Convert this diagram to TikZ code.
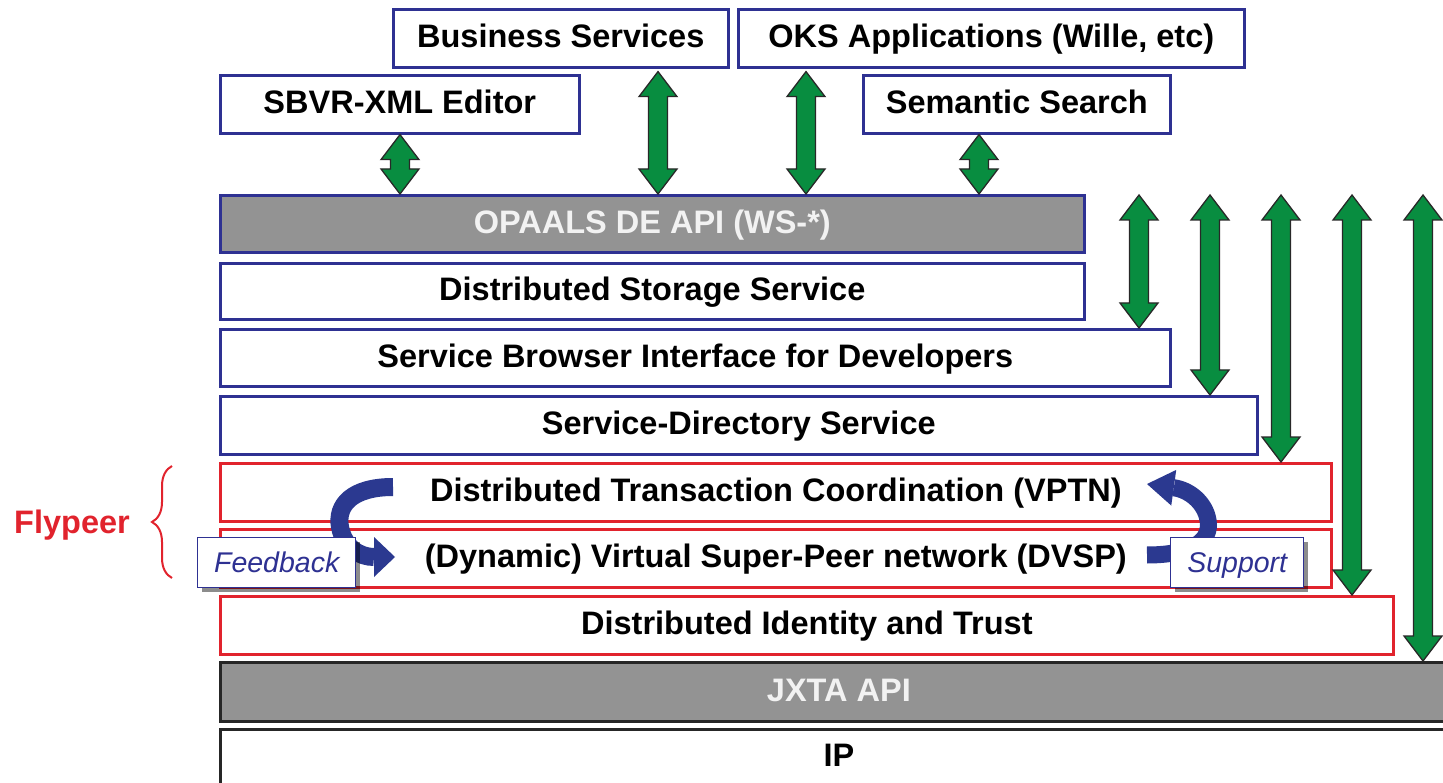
\documentclass[tikz,border=0pt]{standalone}
\usepackage{fontspec}
\setmainfont{Liberation Sans}
\usetikzlibrary{arrows.meta,shadows,decorations.pathreplacing,calc}
\definecolor{bblue}{RGB}{46,49,146}
\definecolor{rred}{RGB}{225,35,45}
\definecolor{ggreen}{RGB}{8,141,64}
\definecolor{gline}{RGB}{40,40,40}
\definecolor{ggray}{RGB}{147,147,147}
\definecolor{darr}{RGB}{43,57,144}
\definecolor{txtw}{RGB}{242,242,242}
\begin{document}
\begin{tikzpicture}[x=1pt,y=-1pt,
  box/.style={draw=bblue, line width=2.6pt, fill=white, inner sep=0pt, anchor=north west,
    font=\fontsize{32.5}{36}\selectfont\bfseries, text=black, text height=23.5pt, text depth=5pt},
  redbox/.style={box, draw=rred, line width=2.7pt},
  graybox/.style={box, fill=ggray, text=txtw},
  blackbox/.style={box, draw=black!85, line width=2.8pt},
  lbl/.style={draw=bblue, line width=1.4pt, fill=white, inner sep=0pt, anchor=north west,
    font=\fontsize{28.5}{32}\selectfont\itshape, text=bblue, text height=20.5pt, text depth=0pt,
    drop shadow={shadow xshift=4pt, shadow yshift=-4pt, opacity=0.45, fill=black}},
  fatarrow/.style={fill=ggreen, draw=gline, line width=1.3pt, line join=miter,
    to path={let \p1=(\tikztostart), \p2=(\tikztotarget) in
      (\x1,\y1) -- (\x1+19pt,\y1-25pt) -- (\x1+9.5pt,\y1-25pt) -- (\x1+9.5pt,\y2+25pt)
      -- (\x1+19pt,\y2+25pt) -- (\x1,\y2) -- (\x1-19pt,\y2+25pt) -- (\x1-9.5pt,\y2+25pt)
      -- (\x1-9.5pt,\y1-25pt) -- (\x1-19pt,\y1-25pt) -- cycle}},
  curvarrow/.style={draw=darr, line width=18pt}
]
\useasboundingbox (0,0) rectangle (1443,783);
\clip (0,0) rectangle (1443,783);

% top boxes
\node[box, minimum width=335pt, minimum height=58pt] (business) at (392,8) {Business Services};
\node[box, minimum width=506pt, minimum height=58pt] (oks) at (737,8) {OKS Applications (Wille, etc)};
\node[box, minimum width=359pt, minimum height=58pt] (sbvr) at (219,74) {SBVR-XML Editor};
\node[box, minimum width=307pt, minimum height=58pt] (sem) at (862,74) {Semantic Search};

% layers
\node[graybox, minimum width=864pt, minimum height=57pt] (opaals) at (219,194) {OPAALS DE API (WS-*)};
\node[box, minimum width=864pt, minimum height=56pt] (dss) at (219,262) {Distributed Storage Service};
\node[box, minimum width=950pt, minimum height=57pt] (sbi) at (219,328) {Service Browser Interface for Developers};
\node[box, minimum width=1037pt, minimum height=58pt] (sds) at (219,395) {Service-Directory Service};
\node[redbox, minimum width=1111pt, minimum height=58pt] (vptn) at (219,462) {Distributed Transaction Coordination (VPTN)};
\node[redbox, minimum width=1111pt, minimum height=58pt] (dvsp) at (219,528) {(Dynamic) Virtual Super-Peer network (DVSP)};
\node[redbox, minimum width=1173pt, minimum height=58pt] (dit) at (219,595) {Distributed Identity and Trust};
\node[blackbox, fill=ggray, text=txtw, minimum width=1237pt, minimum height=59pt] (jxta) at (219,661) {JXTA API};
\node[blackbox, minimum width=1237pt, minimum height=58pt, text depth=8pt] (ip) at (219,728) {IP};

% x positions of green arrows
\coordinate (xa) at (400,0);
\coordinate (xb) at (658,0);
\coordinate (xc) at (806,0);
\coordinate (xd) at (979,0);
\coordinate (r1) at (1139,195);
\coordinate (r2) at (1210,195);
\coordinate (r3) at (1281,195);
\coordinate (r4) at (1352,195);
\coordinate (r5) at (1423,195);

\draw[fatarrow] (sbvr.south -| xa) to (opaals.north -| xa);
\draw[fatarrow] ([yshift=-3pt]business.south -| xb) to (opaals.north -| xb);
\draw[fatarrow] ([yshift=-3pt]oks.south -| xc) to (opaals.north -| xc);
\draw[fatarrow] (sem.south -| xd) to (opaals.north -| xd);
\draw[fatarrow] (r1) to (sbi.north -| r1);
\draw[fatarrow] (r2) to (sds.north -| r2);
\draw[fatarrow] (r3) to (vptn.north -| r3);
\draw[fatarrow] (r4) to (dit.north -| r4);
\draw[fatarrow] (r5) to (jxta.north -| r5);

% curved arrows
\draw[curvarrow, -{Triangle[length=21pt,width=40pt,line width=0pt]}]
  (393,487) .. controls (352,487) and (336,505) .. (340,527)
  .. controls (344,548) and (360,557) .. (395,557);
\draw[curvarrow, line width=17pt, -{Triangle[length=27pt,width=36pt,line width=0pt]}]
  (1147,555) .. controls (1190,555) and (1212,542) .. (1208,520)
  .. controls (1205,503) and (1190,490) .. (1147,484);

% labels
\node[lbl, minimum width=158pt, minimum height=50pt] (fb) at (197,537) {Feedback};
\node[lbl, minimum width=133pt, minimum height=50pt] (sp) at (1170,537) {Support};

% Flypeer
\node[font=\fontsize{32.5}{36}\selectfont\bfseries, text=rred, text height=23.5pt, text depth=0pt, inner sep=0pt] (fly) at (72,522) {Flypeer};
\draw[rred, line width=2pt, decorate, decoration={brace, amplitude=20pt}] (172,578) -- (172,466);
\end{tikzpicture}
\end{document}
